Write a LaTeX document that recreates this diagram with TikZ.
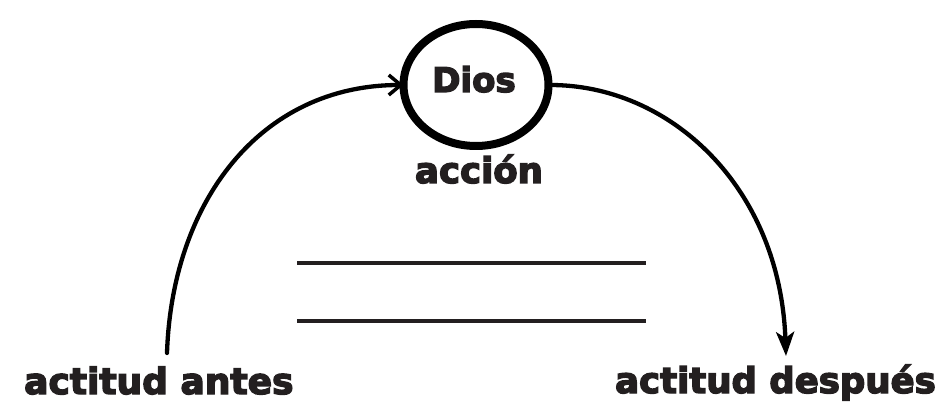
\documentclass[tikz,border=0pt]{standalone}
\usepackage{fontspec}
\setmainfont{DejaVu Sans}
\newfontfamily\heavy{DejaVu Sans Bold}[FakeBold=4]
\usetikzlibrary{shapes.geometric,arrows.meta}
\definecolor{ink}{HTML}{231F20}
\begin{document}
\begin{tikzpicture}[x=1pt,y=1pt,
  label/.style={inner sep=0pt, text=ink},
  curve/.style={line width=4.3pt, line cap=round, black},
  rule/.style={line width=4pt, ink}]
\useasboundingbox (0,0) rectangle (940,402);
\node[draw, ellipse, line width=8pt, minimum width=145pt, minimum height=122pt, inner sep=0pt, outer sep=0pt] (dios) at (476,317) {};
\node[label, anchor=base, font=\heavy\fontsize{34}{34}\selectfont] (diost) at (474,310) {Dios};
\node[label, anchor=base, font=\heavy\fontsize{35.5}{35.5}\selectfont] (accion) at (479,219) {acción};
\node[label, anchor=base west, font=\heavy\fontsize{36}{36}\selectfont] (antes) at (24,8) {actitud antes};
\node[label, anchor=base east, font=\heavy\fontsize{35.5}{35.5}\selectfont] (despues) at (936,9) {actitud después};
\coordinate (s1) at (167,49);
\coordinate (e2) at (786,46);
\draw[curve, -{Straight Barb[length=12pt,width=20pt,line width=3.5pt]}] (s1) .. controls (172,200) and (260,317) .. (dios.west);
\draw[curve, -{Stealth[length=24pt,width=18pt,inset=6pt]}] (dios.east) .. controls (670,318) and (780,215) .. (e2);
\coordinate (l1a) at (297,139); \coordinate (l1b) at (646,139);
\coordinate (l2a) at (297,81); \coordinate (l2b) at (646,81);
\draw[rule] (l1a) -- (l1b);
\draw[rule] (l2a) -- (l2b);
\end{tikzpicture}
\end{document}
